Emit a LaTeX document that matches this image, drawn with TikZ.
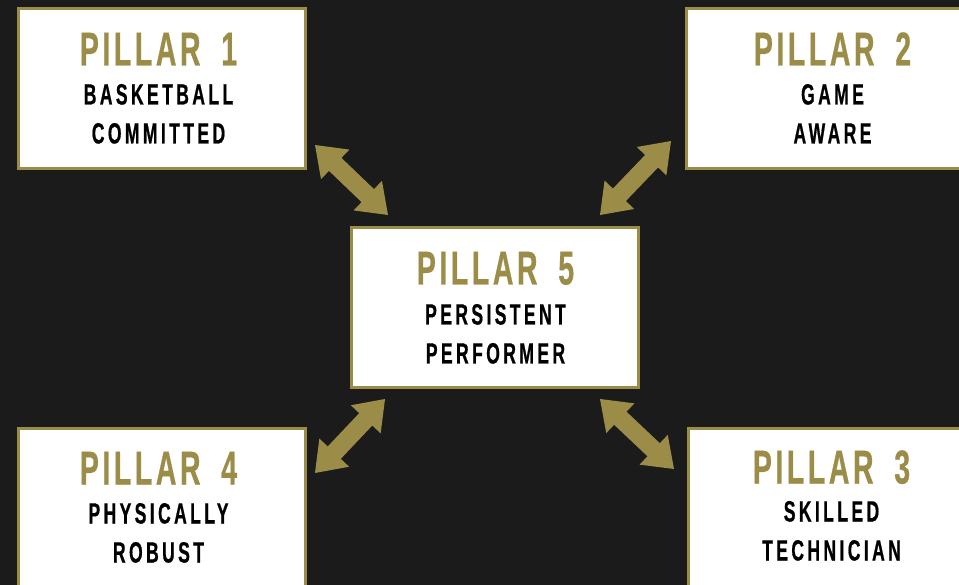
\documentclass[tikz,border=0pt]{standalone}
\usepackage{fontspec}
\usetikzlibrary{calc}
\newfontfamily\pillarfont[FakeStretch=0.6,LetterSpace=7.5,WordSpace=1.8,FakeBold=0.5]{Liberation Sans}
\newfontfamily\pillarsubfont[FakeStretch=0.6,LetterSpace=11.5,FakeBold=0.6]{Liberation Sans}
\definecolor{gold}{RGB}{155,140,72}
\definecolor{bgdark}{RGB}{27,27,27}
\tikzset{
  pillarbox/.style={draw=gold,line width=3pt,fill=white,inner sep=0pt,minimum width=287pt,minimum height=160pt},
  pillartitle/.style={anchor=base,inner sep=0pt,text=gold,font=\pillarfont\bfseries\fontsize{47.5}{50}\selectfont},
  pillarsub/.style={anchor=base,inner sep=0pt,text=black,font=\pillarsubfont\bfseries\fontsize{29.3}{30}\selectfont},
  goldarrow/.style={fill=gold,draw=none}
}
\newcommand\pillararrow[2]{%
  \fill[goldarrow] (#1)
    -- ($($(#1)!28pt!(#2)$)!20.5pt!90:(#2)$)
    -- ($($(#1)!28pt!(#2)$)!9pt!90:(#2)$)
    -- ($($(#2)!28pt!(#1)$)!9pt!-90:(#1)$)
    -- ($($(#2)!28pt!(#1)$)!20.5pt!-90:(#1)$)
    -- (#2)
    -- ($($(#2)!28pt!(#1)$)!20.5pt!90:(#1)$)
    -- ($($(#2)!28pt!(#1)$)!9pt!90:(#1)$)
    -- ($($(#1)!28pt!(#2)$)!9pt!-90:(#2)$)
    -- ($($(#1)!28pt!(#2)$)!20.5pt!-90:(#2)$)
    -- cycle;}
\begin{document}
\begin{tikzpicture}[x=1pt,y=-1pt]
\useasboundingbox (0,0) rectangle (959,585);
\clip (0,0) rectangle (959,585);
\fill[bgdark] (0,0) rectangle (959,585);
% boxes
\node[pillarbox] (b1) at (161.5,89) {};
\node[pillarbox] (b2) at (829.5,89) {};
\node[pillarbox] (b5) at (494.5,308) {};
\node[pillarbox] (b4) at (161.5,508) {};
\node[pillarbox] (b3) at (831.5,508) {};
% texts
\node[pillartitle] (t1) at ($(b1.north)+(-3,58)$) {PILLAR 1};
\node[pillarsub] (t1a) at ($(b1.north)+(-3,97)$) {BASKETBALL};
\node[pillarsub] (t1b) at ($(b1.north)+(-3,136)$) {COMMITTED};
\node[pillartitle] (t2) at ($(b2.north)+(3,58)$) {PILLAR 2};
\node[pillarsub] (t2a) at ($(b2.north)+(3,97)$) {GAME};
\node[pillarsub] (t2b) at ($(b2.north)+(3,136)$) {AWARE};
\node[pillartitle] (t5) at ($(b5.north)+(1,58)$) {PILLAR 5};
\node[pillarsub] (t5a) at ($(b5.north)+(1,98)$) {PERSISTENT};
\node[pillarsub] (t5b) at ($(b5.north)+(1,137)$) {PERFORMER};
\node[pillartitle] (t4) at ($(b4.north)+(-3,58)$) {PILLAR 4};
\node[pillarsub] (t4a) at ($(b4.north)+(-3,97)$) {PHYSICALLY};
\node[pillarsub] (t4b) at ($(b4.north)+(-3,136)$) {ROBUST};
\node[pillartitle] (t3) at ($(b3.north)+(0,57)$) {PILLAR 3};
\node[pillarsub] (t3a) at ($(b3.north)+(0,95)$) {SKILLED};
\node[pillarsub] (t3b) at ($(b3.north)+(0,134)$) {TECHNICIAN};
% arrow ends
\coordinate (a1s) at (315,145);
\coordinate (a1e) at (388,215);
\coordinate (a2s) at (600,215);
\coordinate (a2e) at (671,141);
\coordinate (a3s) at (315,473);
\coordinate (a3e) at (385,399);
\coordinate (a4s) at (600,399);
\coordinate (a4e) at (674,469);
\pillararrow{a1s}{a1e}
\pillararrow{a2s}{a2e}
\pillararrow{a3s}{a3e}
\pillararrow{a4s}{a4e}
\end{tikzpicture}
\end{document}
